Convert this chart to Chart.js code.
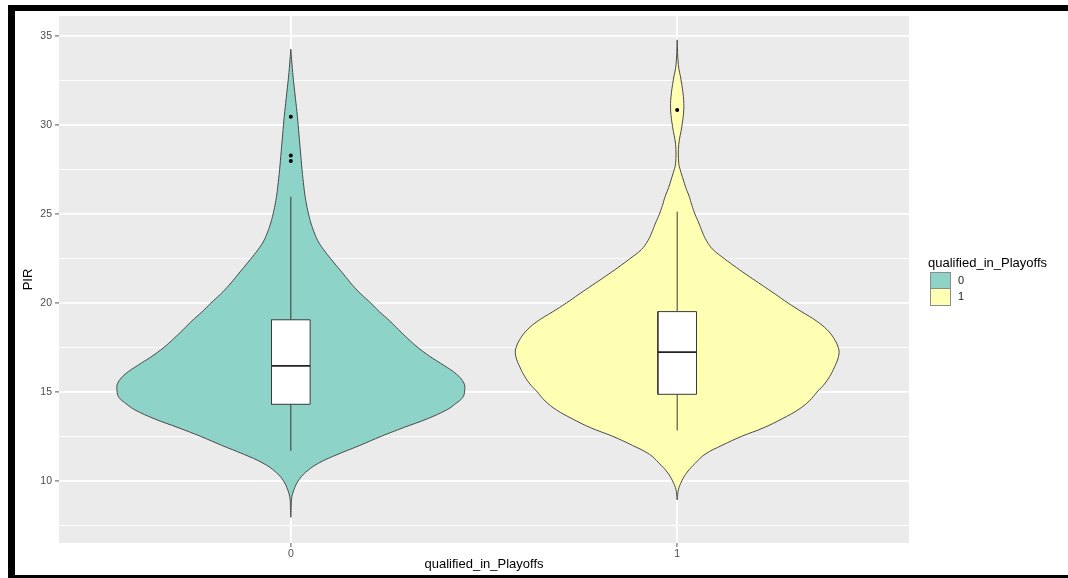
<!DOCTYPE html>
<html lang="en">
<head>
<meta charset="UTF-8" />
<title>PIR by qualified_in_Playoffs</title>
<script src="https://cdn.jsdelivr.net/npm/chart.js@4.4.1/dist/chart.umd.min.js"></script>
<style>
  html, body { margin: 0; padding: 0; background: #fff; overflow: hidden; }
  #wrap { position: relative; width: 1068px; height: 578px; }
  #chart { position: absolute; left: 0; top: 0; }
  #frame {
    position: absolute; left: 8px; top: 5px; width: 1080px; height: 573px;
    box-sizing: border-box; border-top: 6px solid #000; border-left: 7px solid #000;
    border-bottom: 3px solid #000; pointer-events: none;
  }
  #legend { position: absolute; left: 928px; top: 255px; font-family: "Liberation Sans", Arial, sans-serif; }
  #legend .title { font-size: 13px; color: #000; line-height: 16px; white-space: nowrap; }
  #legend .row { position: absolute; left: 2px; height: 16.5px; }
  #legend .key { position: absolute; left: 0; top: 0; width: 19px; height: 15.5px; border: 1px solid #8c8c8c; }
  #legend .lab { position: absolute; left: 28px; top: 1px; font-size: 11px; color: #1a1a1a; line-height: 14px; }
</style>
</head>
<body>
<div id="wrap">
  <canvas id="chart" width="1068" height="578"></canvas>
  <div id="legend"><div class="title">qualified_in_Playoffs</div></div>
  <div id="frame"></div>
</div>
<script>
  const groups = ['0', '1'];
  const fillColors = ['#8DD3C7', '#FFFFB3'];

  // violin outlines: PIR level and half width (in group units) at that level
  const pirLevels0 = [34.27, 33.7, 32.7, 31.5, 30.5, 29.5, 28.5, 27.5, 26.5, 26.0, 25.5, 25.0, 24.5, 24.0, 23.5,
    23.0, 22.5, 22.0, 21.5, 21.0, 20.5, 20.0, 19.5, 19.0, 18.5, 18.0, 17.5, 17.0, 16.5, 16.0, 15.5, 15.1,
    14.7, 14.3, 14.0, 13.5, 13.0, 12.5, 12.0, 11.5, 11.0, 10.5, 10.0, 9.5, 9.0, 8.5, 7.95];
  const halfWidth0 = [0, 0.002, 0.006, 0.012, 0.017, 0.021, 0.025, 0.029, 0.034, 0.037, 0.041, 0.046, 0.052, 0.060, 0.070,
    0.085, 0.103, 0.122, 0.141, 0.160, 0.182, 0.207, 0.230, 0.256, 0.279, 0.303, 0.329, 0.360, 0.396, 0.429, 0.448, 0.450,
    0.445, 0.424, 0.404, 0.354, 0.292, 0.233, 0.179, 0.122, 0.072, 0.039, 0.019, 0.008, 0.002, 0.001, 0];

  const pirLevels1 = [34.8, 33.4, 32.55, 31.6, 30.86, 29.92, 28.9, 27.86, 27.48, 26.92, 26.5, 26.0, 25.5, 25.0, 24.5,
    24.0, 23.5, 23.0, 22.5, 22.0, 21.5, 21.0, 20.5, 20.0, 19.5, 19.0, 18.5, 18.0, 17.5, 17.2, 16.8, 16.4,
    16.0, 15.5, 15.0, 14.5, 14.0, 13.5, 13.0, 12.5, 12.0, 11.5, 11.0, 10.5, 10.0, 9.5, 8.93];
  const halfWidth1 = [0, 0.003, 0.010, 0.016, 0.017, 0.012, 0.004, 0.004, 0.008, 0.016, 0.022, 0.031, 0.038, 0.046, 0.056,
    0.065, 0.076, 0.093, 0.122, 0.153, 0.186, 0.220, 0.254, 0.287, 0.323, 0.360, 0.388, 0.406, 0.417, 0.419, 0.415, 0.407,
    0.398, 0.383, 0.362, 0.342, 0.313, 0.272, 0.225, 0.166, 0.116, 0.072, 0.047, 0.026, 0.012, 0.003, 0];

  // boxplot summaries per group
  const whiskerLow = [11.69, 12.83];
  const boxQ1 = [14.31, 14.87];
  const boxMedian = [16.47, 17.24];
  const boxQ3 = [19.06, 19.52];
  const whiskerHigh = [25.98, 25.14];
  const outliers = [[30.47, 28.29, 27.99], [30.86]];

  const yTicks = [7.5, 10, 12.5, 15, 17.5, 20, 22.5, 25, 27.5, 30, 32.5, 35];

  const BOX_HALF = 0.05;
  const LINE = '#3a3a3a';

  function violinPath(center, levels, widths) {
    const right = levels.map((y, i) => ({ x: center + widths[i], y: y }));
    const left = levels.map((y, i) => ({ x: center - widths[i], y: y })).reverse();
    return right.concat(left.slice(1));
  }

  // higher order is drawn first, so violins sit underneath the boxplots
  const datasets = [];
  const violins = [[pirLevels0, halfWidth0], [pirLevels1, halfWidth1]];

  violins.forEach((v, g) => {
    datasets.push({
      label: groups[g],
      order: 10,
      data: violinPath(g + 1, v[0], v[1]),
      borderColor: '#4a4a4a',
      borderWidth: 1,
      backgroundColor: fillColors[g],
      fill: 'shape',
      tension: 0.4,
      pointRadius: 0
    });
  });

  groups.forEach((name, g) => {
    const c = g + 1;
    datasets.push({ order: 6, data: [{ x: c, y: boxQ3[g] }, { x: c, y: whiskerHigh[g] }],
      borderColor: LINE, borderWidth: 1, pointRadius: 0, fill: false });
    datasets.push({ order: 6, data: [{ x: c, y: whiskerLow[g] }, { x: c, y: boxQ1[g] }],
      borderColor: LINE, borderWidth: 1, pointRadius: 0, fill: false });
    datasets.push({
      order: 5,
      data: [
        { x: c - BOX_HALF, y: boxQ1[g] }, { x: c + BOX_HALF, y: boxQ1[g] },
        { x: c + BOX_HALF, y: boxQ3[g] }, { x: c - BOX_HALF, y: boxQ3[g] },
        { x: c - BOX_HALF, y: boxQ1[g] }
      ],
      borderColor: LINE, borderWidth: 1, backgroundColor: '#ffffff', fill: 'shape', pointRadius: 0, tension: 0
    });
    datasets.push({ order: 4, data: [{ x: c - BOX_HALF, y: boxMedian[g] }, { x: c + BOX_HALF, y: boxMedian[g] }],
      borderColor: '#222', borderWidth: 1.8, pointRadius: 0, fill: false });
    datasets.push({
      order: 3,
      data: outliers[g].map(v => ({ x: c, y: v })),
      showLine: false, pointRadius: 2, pointBackgroundColor: '#000', pointBorderColor: '#000', pointBorderWidth: 0
    });
  });

  const panelBackground = {
    id: 'panelBackground',
    beforeDraw(chart) {
      const a = chart.chartArea;
      const ctx = chart.ctx;
      ctx.save();
      ctx.fillStyle = '#EBEBEB';
      ctx.fillRect(a.left, a.top, a.right - a.left, a.bottom - a.top);
      ctx.restore();
    }
  };

  const isMajor = v => v % 5 === 0;

  new Chart(document.getElementById('chart'), {
    type: 'line',
    data: { datasets: datasets },
    plugins: [panelBackground],
    options: {
      responsive: false,
      animation: false,
      events: [],
      devicePixelRatio: 1,
      layout: { padding: { left: 16, top: 16, right: 159, bottom: 2 } },
      plugins: { legend: { display: false }, tooltip: { enabled: false } },
      scales: {
        x: {
          type: 'linear',
          min: 0.4,
          max: 2.6,
          afterBuildTicks: s => { s.ticks = groups.map((g, i) => ({ value: i + 1 })); },
          afterFit: s => { s.height = 33; },
          border: { display: false },
          grid: { color: '#ffffff', lineWidth: 1.8, tickLength: 4, tickColor: '#555', tickWidth: 1 },
          ticks: {
            autoSkip: false, maxRotation: 0, padding: 1, color: '#4d4d4d',
            font: { family: 'Liberation Sans', size: 10.5 },
            callback: v => groups[v - 1]
          },
          title: {
            display: true, text: 'qualified_in_Playoffs', color: '#000',
            font: { family: 'Liberation Sans', size: 13 }, padding: { top: 0, bottom: 4 }
          }
        },
        y: {
          type: 'linear',
          min: 6.51,
          max: 36.14,
          afterBuildTicks: s => { s.ticks = yTicks.map(v => ({ value: v })); },
          afterFit: s => { s.width = 43; },
          border: { display: false },
          grid: {
            color: '#ffffff',
            lineWidth: c => (c.tick && isMajor(c.tick.value) ? 1.8 : 0.9),
            tickLength: 4,
            tickColor: c => (c.tick && isMajor(c.tick.value) ? '#555' : 'rgba(0,0,0,0)'),
            tickWidth: 1
          },
          ticks: {
            autoSkip: false, padding: 3, color: '#4d4d4d',
            font: { family: 'Liberation Sans', size: 10.5 },
            callback: v => (isMajor(v) ? String(v) : '')
          },
          title: {
            display: true, text: 'PIR', color: '#000',
            font: { family: 'Liberation Sans', size: 13 }, padding: { top: 4.5, bottom: 0 }
          }
        }
      }
    }
  });

  // legend keys and labels
  const legend = document.getElementById('legend');
  groups.forEach((name, g) => {
    const row = document.createElement('div');
    row.className = 'row';
    row.style.top = (16.5 + g * 16.5) + 'px';
    const key = document.createElement('div');
    key.className = 'key';
    key.style.background = fillColors[g];
    const lab = document.createElement('div');
    lab.className = 'lab';
    lab.textContent = name;
    row.appendChild(key);
    row.appendChild(lab);
    legend.appendChild(row);
  });
</script>
</body>
</html>
